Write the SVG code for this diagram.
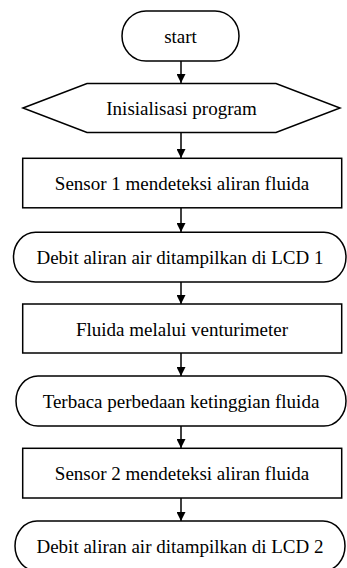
<svg xmlns="http://www.w3.org/2000/svg" width="347" height="568" viewBox="0 0 347 568">
<defs>
<style>
.s{fill:#fff;stroke:#000;stroke-width:1.5}
.t{font-family:"Liberation Serif","Times New Roman",serif;font-size:19px;fill:#000;text-anchor:middle;dominant-baseline:central}
.c{stroke:#000;stroke-width:1.5;fill:none;marker-end:url(#a)}
</style>
<marker id="a" viewBox="0 0 10 10" refX="10" refY="5" markerWidth="10" markerHeight="9" markerUnits="userSpaceOnUse" orient="auto">
<path d="M0,0 L10,5 L0,10 z" fill="#000"/>
</marker>
</defs>
<rect width="347" height="568" fill="#fff"/>
<g id="connectors">
<line class="c" x1="181" y1="61" x2="181" y2="83"/>
<line class="c" x1="181" y1="133" x2="181" y2="158"/>
<line class="c" x1="181" y1="208" x2="181" y2="232"/>
<line class="c" x1="181" y1="282" x2="181" y2="304"/>
<line class="c" x1="181" y1="353" x2="181" y2="376"/>
<line class="c" x1="181" y1="426" x2="181" y2="448"/>
<line class="c" x1="181" y1="498" x2="181" y2="521"/>
</g>
<g id="start">
<rect class="s" x="122" y="11" width="117" height="50" rx="24" ry="25"/>
<text class="t" x="180.5" y="36">start</text>
</g>
<g id="init">
<polygon class="s" points="23,108 87,83.5 276,83.5 340,108 276,132.5 87,132.5"/>
<text class="t" x="181.5" y="108">Inisialisasi program</text>
</g>
<g id="sensor1">
<rect class="s" x="22.7" y="158.3" width="319" height="49.5"/>
<text class="t" x="182" y="183">Sensor 1 mendeteksi aliran fluida</text>
</g>
<g id="lcd1">
<rect class="s" x="13.5" y="232.3" width="332.5" height="49.7" rx="22" ry="24.8"/>
<text class="t" x="180" y="257.5">Debit aliran air ditampilkan di LCD 1</text>
</g>
<g id="fluida">
<rect class="s" x="22.7" y="304" width="319" height="49"/>
<text class="t" x="182" y="329.5">Fluida melalui venturimeter</text>
</g>
<g id="terbaca">
<rect class="s" x="16" y="376" width="330" height="50" rx="22" ry="25"/>
<text class="t" x="181" y="401.5">Terbaca perbedaan ketinggian fluida</text>
</g>
<g id="sensor2">
<rect class="s" x="22.7" y="448.3" width="319" height="49.7"/>
<text class="t" x="182" y="473">Sensor 2 mendeteksi aliran fluida</text>
</g>
<g id="lcd2">
<rect class="s" x="15" y="521" width="330" height="50" rx="22" ry="25"/>
<text class="t" x="180" y="546">Debit aliran air ditampilkan di LCD 2</text>
</g>
</svg>
